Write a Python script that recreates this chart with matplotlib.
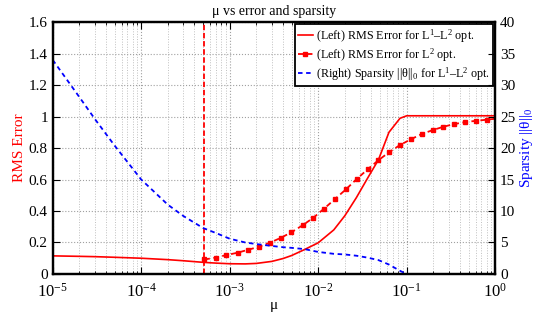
import matplotlib
matplotlib.use("Agg")
import matplotlib.pyplot as plt
import numpy as np
from matplotlib.ticker import LogLocator, NullFormatter

plt.rcParams['font.family'] = ['Liberation Serif', 'DejaVu Serif']
plt.rcParams['mathtext.fontset'] = 'custom'
plt.rcParams['mathtext.rm'] = 'Liberation Serif'
plt.rcParams['mathtext.it'] = 'Liberation Serif:italic'

# ---- data ----
mu_l1 = [1e-5, 2e-5, 3e-5, 5e-5, 1e-4, 2e-4, 3e-4, 5e-4, 7e-4, 1e-3, 1.5e-3,
         2e-3, 3e-3, 4e-3, 5e-3, 7e-3, 1e-2, 1.5e-2, 2e-2, 2.7e-2, 3.6e-2,
         4.8e-2, 6.3e-2, 8.4e-2, 0.1, 0.2, 0.5, 1.0]
rms_l1l2 = [0.115, 0.112, 0.110, 0.106, 0.100, 0.091, 0.084, 0.074, 0.069,
            0.065, 0.064, 0.067, 0.080, 0.098, 0.117, 0.155, 0.198, 0.28,
            0.37, 0.485, 0.607, 0.726, 0.90, 0.989, 1.005, 1.005, 1.005, 1.005]
sparsity_l1l2 = [34.0, 28.1, 24.6, 20.4, 15.0, 11.0, 9.2, 7.3, 6.5, 5.6, 5.0,
                 4.75, 4.45, 4.25, 4.15, 3.95, 3.5, 3.2, 3.1, 2.9, 2.6, 2.2,
                 1.5, 0.5, 0.0, 0.0, 0.0, 0.0]

mu_l2 = [5.19e-4, 6.92e-4, 9.20e-4, 1.225e-3, 1.622e-3, 2.143e-3, 2.851e-3,
         3.767e-3, 4.989e-3, 6.653e-3, 8.810e-3, 1.164e-2, 1.549e-2, 2.061e-2,
         2.723e-2, 3.622e-2, 4.775e-2, 6.310e-2, 8.395e-2, 0.1109, 0.1476,
         0.1968, 0.2588, 0.3420, 0.4592, 0.6067, 0.8017, 1.0]
rms_l2 = [0.092, 0.104, 0.120, 0.135, 0.154, 0.173, 0.199, 0.229, 0.265,
          0.309, 0.357, 0.415, 0.476, 0.538, 0.603, 0.665, 0.722, 0.773,
          0.819, 0.855, 0.889, 0.914, 0.935, 0.952, 0.965, 0.973, 0.980, 0.986]

mu_opt = 5.16e-4

# ---- figure ----
fig = plt.figure(figsize=(5.49, 3.16), dpi=100)
ax = fig.add_axes([0.096, 0.133, 0.806, 0.797])
ax2 = ax.twinx()

red = '#ff0000'
blue = '#0000ff'

l1, = ax.plot(mu_l1, rms_l1l2, '-', color=red, lw=1.2,
              label='(Left) RMS Error for L$^1$–L$^2$ opt.')
l2, = ax.plot(mu_l2, rms_l2, '--', color=red, lw=1.3, marker='s', ms=3.2,
              markevery=list(range(len(mu_l2) - 1)), dashes=(3, 2),
              label='(Left) RMS Error for L$^2$ opt.')
ax.axvline(mu_opt, color=red, lw=1.3, ls='--', dashes=(3, 1.5))
l3, = ax2.plot(mu_l1, sparsity_l1l2, '--', color=blue, lw=1.3, dashes=(2.5, 2),
               label='(Right) Sparsity ||θ||$_0$ for L$^1$–L$^2$ opt.')

ax.set_xscale('log')
ax.set_xlim(1e-5, 1)
ax.set_ylim(0, 1.6)
ax2.set_ylim(0, 40)
ax.set_yticks(np.arange(0, 1.61, 0.2))
ax.set_yticklabels(['0', '0.2', '0.4', '0.6', '0.8', '1', '1.2', '1.4', '1.6'])
ax2.set_yticks(np.arange(0, 41, 5))
ax.xaxis.set_major_locator(LogLocator(base=10, numticks=10))
ax.xaxis.set_minor_locator(LogLocator(base=10, subs=np.arange(2, 10), numticks=20))
ax.xaxis.set_minor_formatter(NullFormatter())

ax.grid(True, which='major', axis='both', color='#a0a0a0', ls=':', lw=0.8)
ax.grid(True, which='minor', axis='x', color='#c0c0c0', ls=':', lw=0.7)

for a in (ax, ax2):
    for s in a.spines.values():
        s.set_linewidth(1.6)
ax.tick_params(axis='both', which='both', direction='in', top=True, labelsize=11)
ax.tick_params(axis='x', which='major', length=5, pad=6, labelsize=12)
ax.tick_params(axis='x', which='minor', length=2.5)
ax.tick_params(axis='y', length=5)
ax2.tick_params(axis='y', direction='in', length=5, labelsize=11)

ax.set_xlabel('μ', fontsize=11, labelpad=-1)
ax.set_ylabel('RMS Error', color=red, fontsize=11, labelpad=2)
ax2.set_ylabel('Sparsity ||θ||$_0$', color=blue, fontsize=11, labelpad=2)
ax.set_title('μ vs error and sparsity', fontsize=10, pad=5)

leg = ax.legend(handles=[l1, l2, l3], loc='upper right', fontsize=8.7,
                frameon=True, fancybox=False, framealpha=1, edgecolor='black',
                borderaxespad=0.15, handlelength=1.3, handletextpad=0.25,
                labelspacing=0.12, borderpad=0.25)
leg.get_frame().set_linewidth(1.3)
leg.set_zorder(10)

fig.savefig('out.png', dpi=100)
